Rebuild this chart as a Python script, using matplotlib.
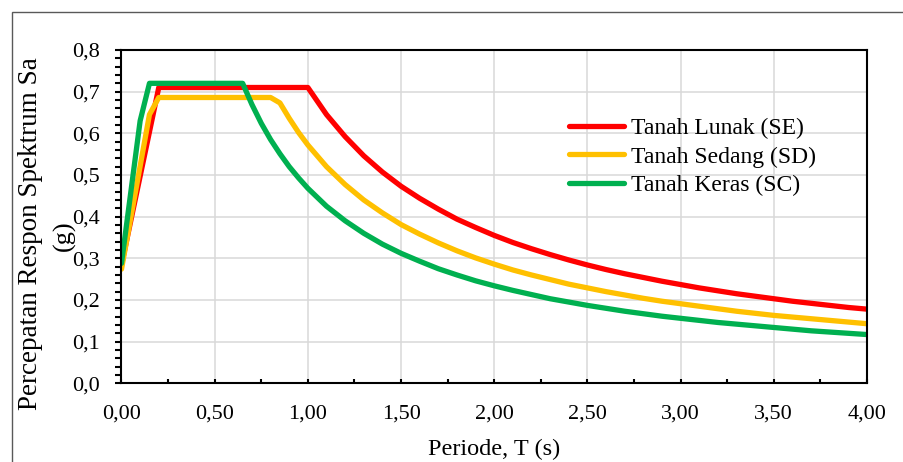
import matplotlib
matplotlib.use("Agg")
import matplotlib.pyplot as plt
from matplotlib.patches import Rectangle
from matplotlib.ticker import MultipleLocator, FuncFormatter

plt.rcParams['font.family'] = ['Liberation Serif', 'DejaVu Serif']

# Tanah Lunak (SE)
t_se = [0.0, 0.2, 1.0, 1.1, 1.2, 1.3, 1.4, 1.5, 1.6, 1.7, 1.8, 1.9, 2.0,
        2.1, 2.2, 2.3, 2.4, 2.5, 2.6, 2.7, 2.8, 2.9, 3.0,
        3.1, 3.2, 3.3, 3.4, 3.5, 3.6, 3.7, 3.8, 3.9, 4.0]
sa_se = [0.284, 0.710, 0.710, 0.645, 0.592, 0.546, 0.507, 0.473, 0.444, 0.418, 0.394, 0.374, 0.355,
         0.338, 0.323, 0.309, 0.296, 0.284, 0.273, 0.263, 0.254, 0.245, 0.237,
         0.229, 0.222, 0.215, 0.209, 0.203, 0.197, 0.192, 0.187, 0.182, 0.178]

# Tanah Sedang (SD)
t_sd = [0.0, 0.15, 0.2, 0.8, 0.85, 0.9, 0.95, 1.0, 1.1, 1.2, 1.3, 1.4, 1.5, 1.6, 1.7, 1.8, 1.9, 2.0,
        2.1, 2.2, 2.3, 2.4, 2.5, 2.6, 2.7, 2.8, 2.9, 3.0,
        3.1, 3.2, 3.3, 3.4, 3.5, 3.6, 3.7, 3.8, 3.9, 4.0]
sa_sd = [0.274, 0.645, 0.686, 0.686, 0.673, 0.636, 0.602, 0.572, 0.520, 0.477, 0.440, 0.409, 0.381,
         0.358, 0.337, 0.318, 0.301, 0.286,
         0.272, 0.260, 0.249, 0.238, 0.229, 0.220, 0.212, 0.204, 0.197, 0.191,
         0.185, 0.179, 0.173, 0.168, 0.163, 0.159, 0.155, 0.151, 0.147, 0.143]

# Tanah Keras (SC)
t_sc = [0.0, 0.1, 0.15, 0.65, 0.7, 0.75, 0.8, 0.85, 0.9, 0.95, 1.0, 1.1, 1.2, 1.3, 1.4, 1.5, 1.6,
        1.7, 1.8, 1.9, 2.0, 2.1, 2.2, 2.3, 2.4, 2.5, 2.6, 2.7, 2.8, 2.9, 3.0,
        3.1, 3.2, 3.3, 3.4, 3.5, 3.6, 3.7, 3.8, 3.9, 4.0]
sa_sc = [0.288, 0.630, 0.720, 0.720, 0.669, 0.624, 0.585, 0.551, 0.520, 0.493, 0.468, 0.425, 0.390,
         0.360, 0.334, 0.312, 0.293, 0.275, 0.260, 0.246, 0.234, 0.223, 0.213, 0.203, 0.195,
         0.187, 0.180, 0.173, 0.167, 0.161, 0.156,
         0.151, 0.146, 0.142, 0.138, 0.134, 0.130, 0.126, 0.123, 0.120, 0.117]

W, H = 904, 462
fig = plt.figure(figsize=(W / 100, H / 100), dpi=100)
ax = fig.add_axes([121.5 / W, 1 - 383.3 / H, (867 - 121.5) / W, (383.3 - 50) / H])

# outer chart border (runs off the right and bottom edges)
fig.patches.append(Rectangle((12 / W, -0.2), 1.2, 1.2 - 12 / H, transform=fig.transFigure,
                             fill=False, edgecolor='#595959', lw=1.0))

ax.plot(t_se, sa_se, color='#FF0000', lw=3.8, label='Tanah Lunak (SE)', solid_capstyle='round')
ax.plot(t_sd, sa_sd, color='#FFC000', lw=3.8, label='Tanah Sedang (SD)', solid_capstyle='round')
ax.plot(t_sc, sa_sc, color='#00B050', lw=3.8, label='Tanah Keras (SC)', solid_capstyle='round')

ax.set_xlim(0, 4)
ax.set_ylim(0, 0.8)
ax.xaxis.set_major_locator(MultipleLocator(0.5))
ax.xaxis.set_minor_locator(MultipleLocator(0.25))
ax.yaxis.set_major_locator(MultipleLocator(0.1))
ax.yaxis.set_minor_locator(MultipleLocator(0.02))
ax.xaxis.set_major_formatter(FuncFormatter(lambda v, p: f"{v:.2f}".replace('.', ',')))
ax.yaxis.set_major_formatter(FuncFormatter(lambda v, p: f"{v:.1f}".replace('.', ',')))

ax.grid(True, which='major', color='#d9d9d9', lw=1.1)
ax.set_axisbelow(True)
for s in ax.spines.values():
    s.set_linewidth(1.5)
    s.set_color('black')

ax.tick_params(axis='y', which='major', direction='out', length=4.5, width=1.5, pad=11, labelsize=16)
ax.tick_params(axis='y', which='minor', direction='out', length=4.5, width=1.5)
ax.tick_params(axis='x', which='major', direction='in', length=3, width=1.5, pad=15, labelsize=16)
ax.tick_params(axis='x', which='minor', direction='in', length=3, width=1.5)

ax.set_xlabel('Periode, T (s)', fontsize=17.5, labelpad=11)
fig.text(31 / W, 1 - 234 / H, 'Percepatan Respon Spektrum Sa', rotation=90,
         ha='center', va='center', fontsize=19.5)
fig.text(64 / W, 1 - 236 / H, '(g)', rotation=90, ha='center', va='center', fontsize=19)

ax.legend(loc='upper left', bbox_to_anchor=(560 / W, 1 - 108 / H), bbox_transform=fig.transFigure,
          frameon=False, fontsize=17, handlelength=2.3, handletextpad=0.3, labelspacing=0.3,
          borderaxespad=0)

fig.savefig('out.png', dpi=100)
